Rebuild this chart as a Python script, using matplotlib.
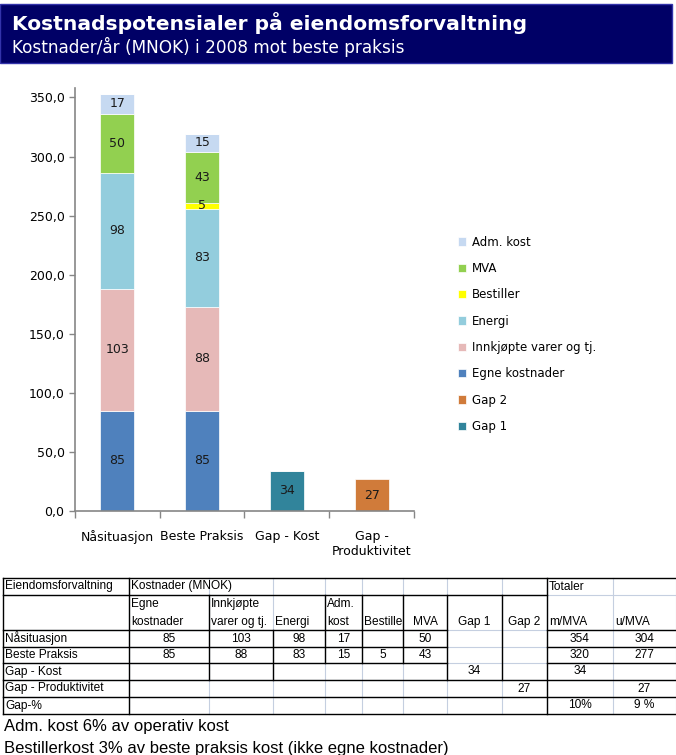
import matplotlib
matplotlib.use("Agg")
import matplotlib.pyplot as plt
from matplotlib.patches import Rectangle
from matplotlib.ticker import FuncFormatter
import numpy as np

# kategorier og kostnadskomponenter (MNOK)
kategorier = ["Nåsituasjon", "Beste Praksis", "Gap - Kost", "Gap -\nProduktivitet"]
egne = [85, 85, 0, 0]
innkjopte = [103, 88, 0, 0]
energi = [98, 83, 0, 0]
bestiller = [0, 5, 0, 0]
mva = [50, 43, 0, 0]
adm = [17, 15, 0, 0]
gap1 = [0, 0, 34, 0]
gap2 = [0, 0, 0, 27]

serier = [
    ("Egne kostnader", egne, "#4f81bd"),
    ("Innkjøpte varer og tj.", innkjopte, "#e6b9b8"),
    ("Energi", energi, "#93cddd"),
    ("Bestiller", bestiller, "#ffff00"),
    ("MVA", mva, "#92d050"),
    ("Adm. kost", adm, "#c6d9f1"),
    ("Gap 1", gap1, "#31849b"),
    ("Gap 2", gap2, "#d07b3a"),
]
legend_rekkefolge = ["Adm. kost", "MVA", "Bestiller", "Energi",
                     "Innkjøpte varer og tj.", "Egne kostnader", "Gap 2", "Gap 1"]

# tabell under diagrammet
tab_kolonner = ["Egne\nkostnader", "Innkjøpte\nvarer og tj.", "Energi", "Adm.\nkost",
                "Bestille", "MVA", "Gap 1", "Gap 2", "m/MVA", "u/MVA"]
tab_rader = ["Nåsituasjon", "Beste Praksis", "Gap - Kost", "Gap - Produktivitet", "Gap-%"]
tab_verdier = [
    ["85", "103", "98", "17", "", "50", "", "", "354", "304"],
    ["85", "88", "83", "15", "5", "43", "", "", "320", "277"],
    ["", "", "", "", "", "", "34", "", "34", ""],
    ["", "", "", "", "", "", "", "27", "", "27"],
    ["", "", "", "", "", "", "", "", "10%", "9 %"],
]
fotnoter = ["Adm. kost 6% av operativ kost",
            "Bestillerkost 3% av beste praksis kost (ikke egne kostnader)"]

W, H = 676, 755
fig = plt.figure(figsize=(W / 100, H / 100), dpi=100)
narrow = ["Liberation Sans Narrow", "Liberation Sans", "DejaVu Sans"]

# ---- diagram ----
ax = fig.add_axes([75 / W, 1 - 511 / H, (414 - 75) / W, (511 - 88) / H])
x = np.arange(len(kategorier))
bunn = np.zeros(len(kategorier))
handles = {}
for navn, verdier, farge in serier:
    v = np.array(verdier, dtype=float)
    b = ax.bar(x, v, 0.4, bottom=bunn, color=farge, edgecolor="white", linewidth=0.5, label=navn)
    handles[navn] = b
    for xi, vi, bi in zip(x, v, bunn):
        if vi > 0:
            ax.text(xi, bi + vi / 2, f"{vi:.0f}", ha="center", va="center",
                    fontsize=9, color="#1a1a1a")
    bunn += v

ax.set_xlim(-0.5, len(kategorier) - 0.5)
ax.set_ylim(0, 358)
ax.set_yticks(np.arange(0, 351, 50))
ax.yaxis.set_major_formatter(FuncFormatter(lambda v, p: f"{v:.1f}".replace(".", ",")))
ax.set_xticks(x)
ax.set_xticklabels(kategorier, fontsize=9)
ax.set_xticks(np.arange(-0.5, len(kategorier)), minor=True)
ax.tick_params(axis="x", which="major", length=0, pad=14)
ax.tick_params(axis="x", which="minor", length=5, color="#868686", width=1)
ax.tick_params(axis="y", length=4, color="#868686", labelsize=9, width=1)
for s in ["top", "right"]:
    ax.spines[s].set_visible(False)
for s in ["left", "bottom"]:
    ax.spines[s].set_color("#868686")
    ax.spines[s].set_linewidth(1.2)

fig.legend([handles[n] for n in legend_rekkefolge], legend_rekkefolge,
           loc="upper left", bbox_to_anchor=(447 / W, 1 - 225 / H),
           frameon=False, fontsize=8.5, handlelength=0.7, handleheight=0.7,
           handletextpad=0.5, labelspacing=1.13)

# ---- overlegg i pikselkoordinater: topptekst, tabell, fotnoter ----
bg = fig.add_axes([0, 0, 1, 1], zorder=-1)
bg.set_xlim(0, W)
bg.set_ylim(H, 0)
bg.axis("off")

bg.add_patch(Rectangle((0, 4), 672, 59, facecolor="#000066", edgecolor="#3333aa", linewidth=1))
bg.text(12, 23, "Kostnadspotensialer på eiendomsforvaltning", color="white",
        fontsize=14.6, fontweight="bold", va="center", ha="left")
bg.text(12, 47, "Kostnader/år (MNOK) i 2008 mot beste praksis", color="white",
        fontsize=12.2, va="center", ha="left")

C = [3, 129, 209, 273, 325, 362, 403, 447, 502, 547, 613, 676]
R = [578, 595, 630, 647, 663, 680, 697, 714]
lys = "#c5cfe0"

for c in C[1:]:
    bg.plot([c, c], [R[0], R[-1]], color=lys, lw=0.8)
for r in R[1:-1]:
    bg.plot([C[0], C[-1]], [r, r], color=lys, lw=0.8)

def hlinje(r, c0, c1):
    bg.plot([C[c0], C[c1]], [R[r], R[r]], color="black", lw=1.0, solid_capstyle="projecting")

def vlinje(c, r0, r1):
    bg.plot([C[c], C[c]], [R[r0], R[r1]], color="black", lw=1.0, solid_capstyle="projecting")

hlinje(0, 0, 11)
hlinje(7, 0, 11)
vlinje(0, 0, 7)
vlinje(1, 0, 7)
vlinje(9, 0, 7)
hlinje(1, 0, 9)
for r in (2, 3, 4):
    hlinje(r, 0, 7)
    hlinje(r, 9, 11)
hlinje(5, 0, 11)
hlinje(6, 0, 11)
vlinje(2, 1, 5)
vlinje(3, 2, 5)
for c in (4, 5, 6):
    vlinje(c, 1, 4)
vlinje(7, 1, 5)
vlinje(8, 1, 5)

tfs = 8.6
bg.text(5, (R[0] + R[1]) / 2, "Eiendomsforvaltning", fontsize=tfs, family=narrow, va="center")
bg.text(C[1] + 2, (R[0] + R[1]) / 2, "Kostnader (MNOK)", fontsize=tfs, family=narrow, va="center")
bg.text(C[9] + 2, (R[0] + R[1]) / 2, "Totaler", fontsize=tfs, family=narrow, va="center")

sentrert = {"MVA", "Gap 1", "Gap 2"}
for i, kol in enumerate(tab_kolonner):
    linjer = kol.split("\n")
    ys = [R[2] - 8] if len(linjer) == 1 else [R[1] + 9, R[2] - 8]
    for tekst, yy in zip(linjer, ys):
        if kol in sentrert:
            bg.text((C[i + 1] + C[i + 2]) / 2, yy, tekst, fontsize=tfs, family=narrow,
                    va="center", ha="center")
        else:
            bg.text(C[i + 1] + 2, yy, tekst, fontsize=tfs, family=narrow, va="center")

for j, (rad, verdier) in enumerate(zip(tab_rader, tab_verdier)):
    yy = (R[j + 2] + R[j + 3]) / 2
    bg.text(5, yy, rad, fontsize=tfs, family=narrow, va="center")
    for i, v in enumerate(verdier):
        if v:
            bg.text((C[i + 1] + C[i + 2]) / 2, yy, v, fontsize=tfs, family=narrow,
                    va="center", ha="center")

bg.text(4, 727, fotnoter[0], fontsize=12, family=narrow, va="center")
bg.text(4, 749, fotnoter[1], fontsize=12, family=narrow, va="center")

fig.savefig("out.png", dpi=100)
